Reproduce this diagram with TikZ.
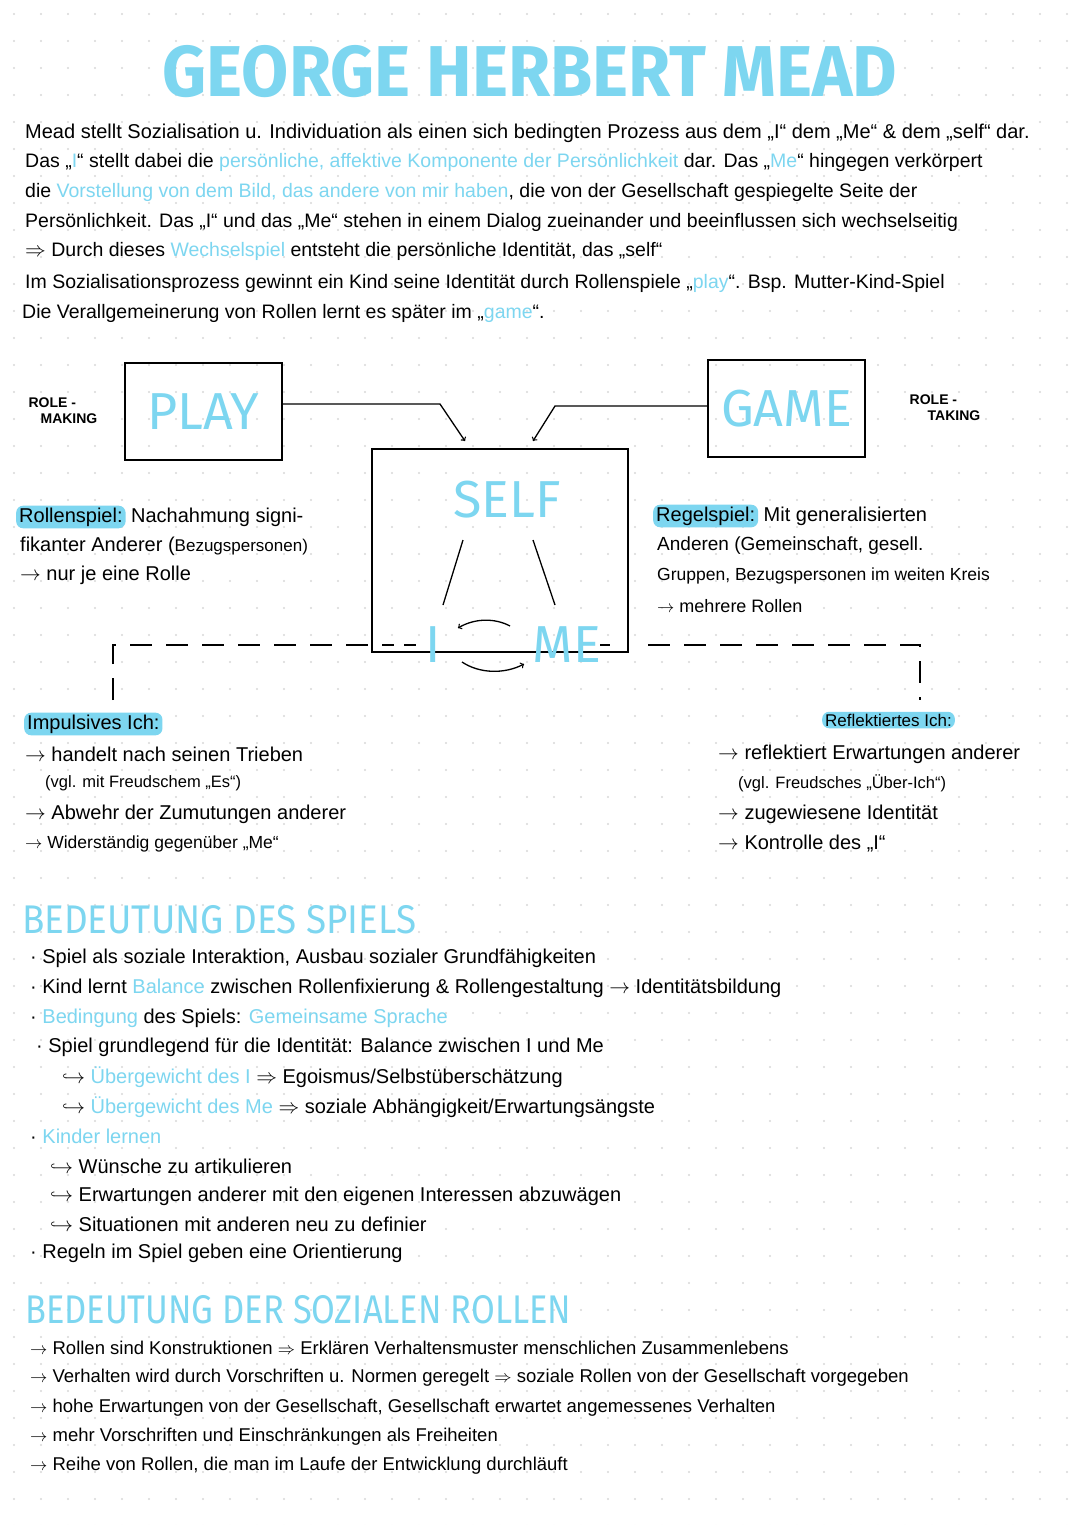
\documentclass[tikz,border=0pt]{standalone}
\usepackage{fontspec}
\setmainfont{Liberation Sans}
\newfontfamily\headf{Fira Sans}
\definecolor{cy}{HTML}{7DD6F0}
\definecolor{dotc}{HTML}{D8D8D8}
\newcommand{\hlt}[1]{\tikz[baseline=(h.base)]\node[fill=cy,rounded corners=7pt,inner xsep=3pt,inner ysep=2pt](h){#1};}
\begin{document}
\begin{tikzpicture}[x=1pt,y=-1pt,
  tx/.style={anchor=west,inner sep=0pt,font=\fontsize{20}{22}\selectfont},
  sm/.style={anchor=west,inner sep=0pt,font=\fontsize{19.5}{22}\selectfont},
  bl/.style={anchor=west,inner sep=0pt,font=\fontsize{20}{22}\selectfont},
  cl/.style={anchor=west,inner sep=0pt,font=\fontsize{18.5}{21}\selectfont},
  par/.style={anchor=west,inner sep=0pt,font=\fontsize{16.5}{18}\selectfont},
  hd/.style={anchor=west,inner sep=0pt,text=cy,font=\headf\fontsize{40}{44}\selectfont},
  bx/.style={draw,line width=1.6pt},
  big/.style={text=cy,inner sep=0pt,font=\headf\fontsize{52}{56}\selectfont},
  arr/.style={line width=1.3pt,->},
  dsh/.style={line width=1.3pt,dash pattern=on 22pt off 14pt}]
\useasboundingbox (0,0) rectangle (1080,1525);
\fill[white] (0,0) rectangle (1080,1525);
\foreach \i in {0,...,39}{\foreach \j in {0,...,56}{\fill[dotc] (14+27*\i,14+27*\j) circle (1.2pt);}}
\node[text=cy,inner sep=0pt,font=\headf\bfseries\fontsize{72}{76}\selectfont,xscale=0.95] (title) at (530,72) {GEORGE HERBERT MEAD};
\node[tx] (p1) at (25,133) {Mead stellt Sozialisation u. Individuation als einen sich bedingten Prozess aus dem „I“ dem „Me“ \& dem „self“ dar.};
\node[sm] (p2) at (25,162) {Das „\textcolor{cy}{I}“ stellt dabei die \textcolor{cy}{persönliche, affektive Komponente der Persönlichkeit} dar. Das „\textcolor{cy}{Me}“ hingegen verkörpert};
\node[sm] (p3) at (25,192) {die \textcolor{cy}{Vorstellung von dem Bild, das andere von mir haben}, die von der Gesellschaft gespiegelte Seite der};
\node[sm] (p4) at (25,222) {Persönlichkeit. Das „I“ und das „Me“ stehen in einem Dialog zueinander und beeinflussen sich wechselseitig};
\node[sm] (p5) at (25,251) {$\Rightarrow$ Durch dieses \textcolor{cy}{Wechselspiel} entsteht die persönliche Identität, das „self“};
\node[sm] (p6) at (25,283) {Im Sozialisationsprozess gewinnt ein Kind seine Identität durch Rollenspiele „\textcolor{cy}{play}“. Bsp. Mutter-Kind-Spiel};
\node[sm] (p7) at (22,313) {Die Verallgemeinerung von Rollen lernt es später im „\textcolor{cy}{game}“.};

\node[bx,minimum width=157pt,minimum height=97pt] (play) at (203.5,411.5) {};
\node[big] (playt) at (play) {PLAY};
\node[bx,minimum width=157pt,minimum height=97pt] (game) at (786.5,408.5) {};
\node[big] (gamet) at (game) {GAME};
\node[bx,minimum width=256pt,minimum height=203pt] (selfb) at (500,550.5) {};
\node[big] (self) at (507,500) {SELF};
\node[big] (i) at (433,645) {I};
\node[big] (me) at (567,645) {ME};
\node[align=left,inner sep=0pt,font=\bfseries\fontsize{14}{16}\selectfont] (rm) at (63,411) {ROLE -\\\hspace{12pt}MAKING};
\node[align=left,inner sep=0pt,font=\bfseries\fontsize{14}{16}\selectfont] (rt) at (945,408) {ROLE -\\\hspace{18pt}TAKING};

\coordinate (pa) at (440,404); \coordinate (ga) at (555,406);
\draw[arr] (play.east|-pa) -- (pa) -- (465,441);
\draw[arr] (game.west|-ga) -- (ga) -- (533,441);
\draw[line width=1.3pt] (463,540) -- (443,605) (533,540) -- (555,605);
\draw[line width=1.3pt,<-] (458,628) .. controls (475,618) and (495,618) .. (510,626);
\draw[line width=1.3pt,->] (462,662) .. controls (480,674) and (505,674) .. (524,664);

\coordinate (dl) at (113,645); \coordinate (dr) at (920,645);
\draw[dsh] (113,700) -- (dl) -- (372,645);
\draw[line width=1.3pt] (382,645) -- (394,645) (404,645) -- (416,645) (600,645) -- (610,645);
\draw[dsh] (648,645) -- (dr) -- (920,700);

\node[tx] (r1) at (16,517) {\hlt{Rollenspiel:} Nachahmung signi-};
\node[tx] (r2) at (20,546) {fikanter Anderer (\fontsize{17}{19}\selectfont Bezugspersonen)};
\node[tx] (r3) at (20,575) {$\rightarrow$ nur je eine Rolle};
\node[tx] (g1) at (653,516) {\hlt{Regelspiel:} Mit generalisierten};
\node[sm,font=\fontsize{19}{21}\selectfont] (g2) at (657,546) {Anderen (Gemeinschaft, gesell.};
\node[sm,font=\fontsize{17.5}{20}\selectfont] (g3) at (657,576) {Gruppen, Bezugspersonen im weiten Kreis};
\node[sm,font=\fontsize{18}{20}\selectfont] (g4) at (657,606) {$\rightarrow$ mehrere Rollen};

\node[tx] (ii) at (24,724) {\hlt{Impulsives Ich:}};
\node[tx] (i1) at (25,754) {$\rightarrow$ handelt nach seinen Trieben};
\node[par] (i2) at (45,783) {(vgl. mit Freudschem „Es“)};
\node[tx] (i3) at (25,814) {$\rightarrow$ Abwehr der Zumutungen anderer};
\node[par,font=\fontsize{17.5}{19}\selectfont] (i4) at (25,844) {$\rightarrow$ Widerständig gegenüber „Me“};
\node[sm,font=\fontsize{17}{19}\selectfont] (ri) at (822,720) {\hlt{Reflektiertes Ich:}};
\node[tx] (f1) at (718,754) {$\rightarrow$ reflektiert Erwartungen anderer};
\node[par] (f2) at (738,783) {(vgl. Freudsches „Über-Ich“)};
\node[tx] (f3) at (718,814) {$\rightarrow$ zugewiesene Identität};
\node[tx] (f4) at (718,844) {$\rightarrow$ Kontrolle des „I“};

\node[hd,xscale=0.92] (h1) at (22,920) {BEDEUTUNG DES SPIELS};
\node[bl] (b1) at (30,958) {· Spiel als soziale Interaktion, Ausbau sozialer Grundfähigkeiten};
\node[bl] (b2) at (30,988) {· Kind lernt \textcolor{cy}{Balance} zwischen Rollenfixierung \& Rollengestaltung $\rightarrow$ Identitätsbildung};
\node[bl] (b3) at (30,1018) {· \textcolor{cy}{Bedingung} des Spiels: \textcolor{cy}{Gemeinsame Sprache}};
\node[bl] (b4) at (36,1047) {· Spiel grundlegend für die Identität: Balance zwischen I und Me};
\node[bl] (b5) at (62,1077) {$\hookrightarrow$ \textcolor{cy}{Übergewicht des I} $\Rightarrow$ Egoismus/Selbstüberschätzung};
\node[bl] (b6) at (62,1107) {$\hookrightarrow$ \textcolor{cy}{Übergewicht des Me} $\Rightarrow$ soziale Abhängigkeit/Erwartungsängste};
\node[bl] (b7) at (30,1136) {· \textcolor{cy}{Kinder lernen}};
\node[bl] (b8) at (50,1166) {$\hookrightarrow$ Wünsche zu artikulieren};
\node[bl] (b9) at (50,1196) {$\hookrightarrow$ Erwartungen anderer mit den eigenen Interessen abzuwägen};
\node[bl] (b10) at (50,1224) {$\hookrightarrow$ Situationen mit anderen neu zu definier};
\node[bl] (b11) at (30,1253) {· Regeln im Spiel geben eine Orientierung};

\node[hd,xscale=0.86] (h2) at (25,1310) {BEDEUTUNG DER SOZIALEN ROLLEN};
\node[cl] (c1) at (30,1348) {$\rightarrow$ Rollen sind Konstruktionen $\Rightarrow$ Erklären Verhaltensmuster menschlichen Zusammenlebens};
\node[cl] (c2) at (30,1378) {$\rightarrow$ Verhalten wird durch Vorschriften u. Normen geregelt $\Rightarrow$ soziale Rollen von der Gesellschaft vorgegeben};
\node[cl] (c3) at (30,1408) {$\rightarrow$ hohe Erwartungen von der Gesellschaft, Gesellschaft erwartet angemessenes Verhalten};
\node[cl] (c4) at (30,1437) {$\rightarrow$ mehr Vorschriften und Einschränkungen als Freiheiten};
\node[cl] (c5) at (30,1466) {$\rightarrow$ Reihe von Rollen, die man im Laufe der Entwicklung durchläuft};
\end{tikzpicture}
\end{document}
